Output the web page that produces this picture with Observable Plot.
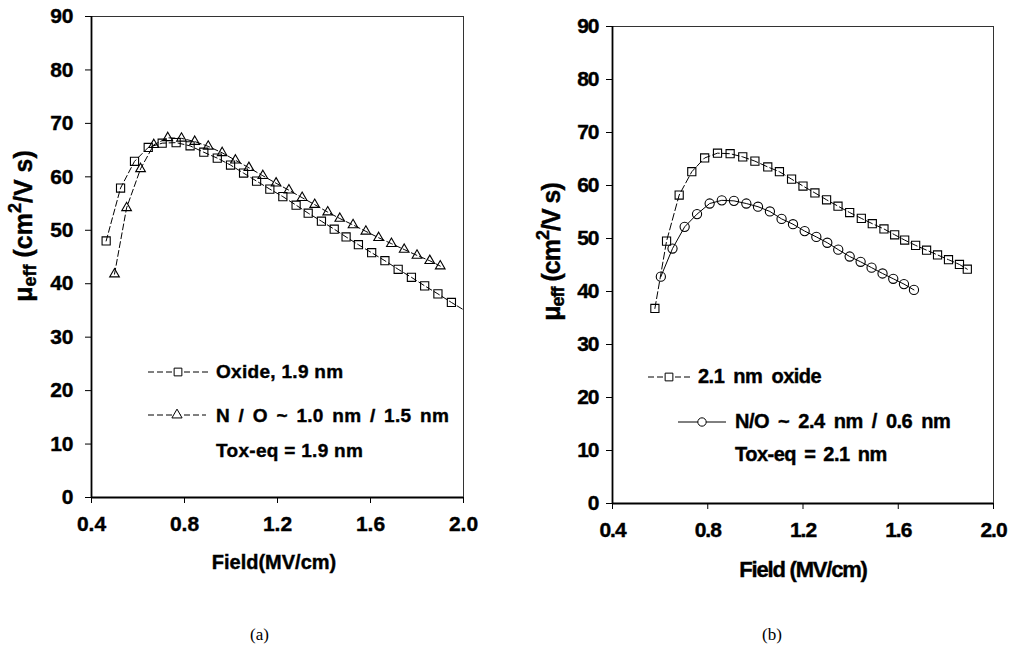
<!DOCTYPE html>
<html><head><meta charset="utf-8">
<script src="https://cdn.jsdelivr.net/npm/d3@7"></script>
<script src="https://cdn.jsdelivr.net/npm/@observablehq/plot@0.6"></script>
<style>
body{margin:0;background:#fff;width:1009px;height:661px;overflow:hidden;position:relative;font-family:"Liberation Sans",Arial,sans-serif}
#a{position:absolute;left:0;top:0}
#b{position:absolute;left:505px;top:0}
svg text{stroke:#000;stroke-width:0.4px}
.cap{position:absolute;top:625px;font-family:"Liberation Serif","Times New Roman",serif;font-size:17px;color:#000}
</style></head><body>
<div id="a"></div><div id="b"></div>
<div class="cap" style="left:250px">(a)</div>
<div class="cap" style="left:762px">(b)</div>
<script>
// ---- data ----
const xTicks = [0.4, 0.8, 1.2, 1.6, 2.0];
const yTicks = [0, 10, 20, 30, 40, 50, 60, 70, 80, 90];

// (a) Oxide, 1.9 nm  (last point lies just outside the frame, clipped)
const aOxideX = [0.463,0.525,0.585,0.644,0.704,0.764,0.824,0.883,0.941,0.998,1.054,1.110,1.167,1.223,1.280,1.332,1.389,1.444,1.495,1.548,1.605,1.662,1.719,1.776,1.833,1.890,1.948,2.005];
const aOxideY = [48.0,57.9,62.9,65.5,66.3,66.4,65.8,64.6,63.5,62.2,60.7,59.2,57.7,56.3,54.7,53.2,51.7,50.2,48.75,47.3,45.8,44.3,42.7,41.2,39.6,38.1,36.5,35.0];
// (a) N/O ~ 1.0 nm / 1.5 nm
const aNOX = [0.499,0.551,0.611,0.668,0.728,0.787,0.844,0.902,0.962,1.019,1.077,1.137,1.194,1.249,1.306,1.360,1.416,1.468,1.525,1.580,1.635,1.690,1.745,1.800,1.855,1.900];
const aNOY = [41.8,54.2,61.5,66.0,67.3,67.2,66.6,65.7,64.5,63.1,61.7,60.2,58.8,57.5,56.1,54.8,53.4,52.2,51.0,49.8,48.6,47.5,46.4,45.3,44.3,43.3];
// (b) 2.1 nm oxide
const bOxideX = [0.578,0.627,0.680,0.733,0.787,0.841,0.894,0.947,0.998,1.052,1.101,1.152,1.200,1.250,1.299,1.347,1.396,1.445,1.491,1.540,1.585,1.627,1.673,1.719,1.765,1.811,1.857,1.890];
const bOxideY = [36.8,49.5,58.2,62.6,65.2,66.1,66.0,65.4,64.6,63.5,62.6,61.2,59.9,58.6,57.3,56.1,54.9,53.8,52.8,51.8,50.7,49.7,48.7,47.8,46.9,46.0,45.1,44.2];
// (b) N/O ~ 2.4 nm / 0.6 nm
const bNOX = [0.603,0.652,0.703,0.755,0.808,0.859,0.910,0.962,1.011,1.061,1.110,1.158,1.207,1.256,1.302,1.348,1.396,1.442,1.488,1.534,1.579,1.624,1.666];
const bNOY = [42.8,48.1,52.2,54.6,56.6,57.2,57.1,56.6,56.0,55.1,53.7,52.7,51.4,50.3,49.2,47.9,46.6,45.6,44.5,43.4,42.4,41.4,40.3];

const zip = (xs, ys) => xs.map((x, i) => ({x, y: ys[i]}));

function panel(opts) {
  const {series, width, marginLeft, marginRight, marginTop, marginBottom, tickFontY, tickFontX, padY, padX, ls} = opts;
  const marks = [
    Plot.frame({stroke: "#333", strokeWidth: 1}),
    Plot.ruleX([0.4], {stroke: "#000", strokeWidth: 1.8}),
    Plot.ruleY([0], {stroke: "#000", strokeWidth: 1.8}),
    Plot.axisY({ticks: yTicks, tickSize: 6, tickPadding: padY, label: null, fontSize: tickFontY, fontWeight: "bold", tickFormat: d3.format("d")}),
    Plot.axisX({ticks: xTicks, tickSize: 6, tickPadding: padX, label: null, fontSize: tickFontX, fontWeight: "bold", tickFormat: d3.format(".1f")})
  ];
  for (const s of series) {
    const data = zip(s.x, s.y);
    marks.push(Plot.line(data, {x: "x", y: "y", stroke: "#000", strokeWidth: 1, strokeDasharray: s.dash, clip: true}));
    marks.push(Plot.dot(data.filter(d => d.x <= 2.0), {x: "x", y: "y", symbol: s.symbol, r: s.r, stroke: "#000", strokeWidth: 1.1, fill: "none"}));
  }
  return Plot.plot({
    width, height: 600, marginLeft, marginRight, marginTop, marginBottom,
    style: {fontFamily: "'Liberation Sans', Arial, sans-serif", color: "#000", background: "#fff", letterSpacing: ls},
    x: {domain: [0.4, 2.0]},
    y: {domain: [0, 90]},
    marks
  });
}

function txt(svg, x, y, s, size, extra = {}) {
  const t = svg.append("text").attr("x", x).attr("y", y).attr("font-size", size)
    .attr("font-weight", "bold").attr("dominant-baseline", "middle").attr("fill", "#000")
    .attr("text-anchor", "start")
    .attr("font-family", "'Liberation Sans', Arial, sans-serif").text(s);
  for (const k in extra) t.attr(k, extra[k]);
  return t;
}
function ylabel(svg, cx, cy, size, ls) {
  const t = svg.append("text").attr("transform", `translate(${cx},${cy}) rotate(-90)`)
    .attr("text-anchor", "middle").attr("dominant-baseline", "middle")
    .attr("font-size", size).attr("font-weight", "bold").attr("fill", "#000")
    .attr("font-family", "'Liberation Sans', Arial, sans-serif").attr("letter-spacing", ls);
  t.append("tspan").text("\u03bc");
  t.append("tspan").attr("dy", 6).attr("font-size", size * 0.72).text("eff");
  t.append("tspan").attr("dy", -6).text(" (cm");
  t.append("tspan").attr("dy", -9).attr("font-size", size * 0.72).text("2");
  t.append("tspan").attr("dy", 9).text("/V s)");
}
function legendItem(svg, x1, x2, y, dash, symbol, size) {
  svg.append("line").attr("x1", x1).attr("x2", x2).attr("y1", y).attr("y2", y)
    .attr("stroke", "#000").attr("stroke-width", 1).attr("stroke-dasharray", dash);
  svg.append("path").attr("d", d3.symbol(symbol, size)()).attr("transform", `translate(${(x1 + x2) / 2},${y})`)
    .attr("fill", "#fff").attr("stroke", "#000").attr("stroke-width", 1);
}

// ---- panel (a) ----
const pa = panel({
  series: [
    {x: aOxideX, y: aOxideY, symbol: "square", r: 4.6, dash: "6,3"},
    {x: aNOX, y: aNOY, symbol: "triangle", r: 3.6, dash: "6,3"}
  ],
  width: 505, marginLeft: 91, marginRight: 42, marginTop: 16, marginBottom: 103,
  tickFontY: 21, tickFontX: 21, padY: 12, padX: 13, ls: "0px"
});
document.getElementById("a").append(pa);
{
  const svg = d3.select(pa);
  ylabel(svg, 25, 226, 25, "0px");
  txt(svg, 274, 564, "Field(MV/cm)", 20, {"text-anchor": "middle"});
  legendItem(svg, 148, 208, 372, "6,3", d3.symbolSquare, 60);
  txt(svg, 216, 373, "Oxide, 1.9 nm", 19, {"letter-spacing": "0.3px"});
  legendItem(svg, 148, 206, 415, "6,3", d3.symbolTriangle, 45);
  txt(svg, 216, 417, "N / O ~ 1.0 nm / 1.5 nm", 19, {"word-spacing": "3px", "letter-spacing": "0.3px"});
  txt(svg, 216, 452, "Tox-eq = 1.9 nm", 19, {"letter-spacing": "0.3px"});
}

// ---- panel (b) ----
const pb = panel({
  series: [
    {x: bOxideX, y: bOxideY, symbol: "square", r: 4.6, dash: "7,3"},
    {x: bNOX, y: bNOY, symbol: "circle", r: 4.6, dash: null}
  ],
  width: 504, marginLeft: 107, marginRight: 16, marginTop: 26, marginBottom: 97,
  tickFontY: 21, tickFontX: 21, padY: 8, padX: 13, ls: "-1px"
});
document.getElementById("b").append(pb);
{
  const svg = d3.select(pb);
  const o = 505;
  ylabel(svg, 553 - o, 252, 25, "-1px");
  txt(svg, 803 - o, 571, "Field (MV/cm)", 22, {"text-anchor": "middle", "letter-spacing": "-1.2px"});
  legendItem(svg, 648 - o, 690 - o, 377, "6,3", d3.symbolSquare, 60);
  txt(svg, 698 - o, 378, "2.1 nm oxide", 20, {"letter-spacing": "-0.5px", "word-spacing": "4px"});
  legendItem(svg, 678 - o, 726 - o, 422, null, d3.symbolCircle, 55);
  txt(svg, 735 - o, 423, "N/O ~ 2.4 nm / 0.6 nm", 20, {"letter-spacing": "-0.5px", "word-spacing": "4px"});
  txt(svg, 735 - o, 456, "Tox-eq = 2.1 nm", 20, {"letter-spacing": "-0.5px", "word-spacing": "3px"});
}
</script>
</body></html>
